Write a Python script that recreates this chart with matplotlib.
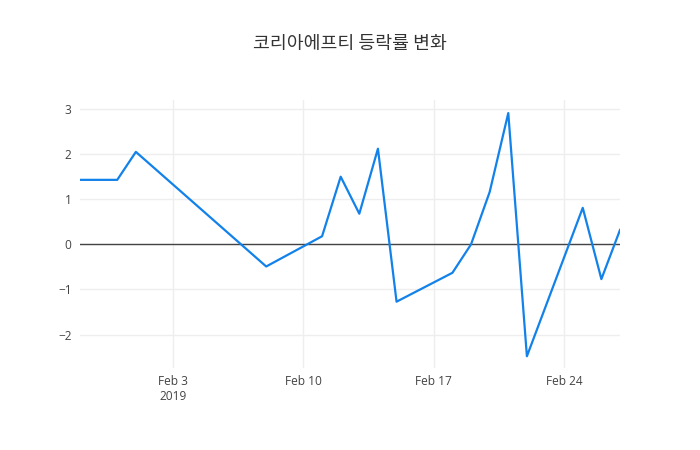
import numpy as np
import pandas as pd
import matplotlib.pyplot as plt
import matplotlib.dates as mdates

plt.rcParams['font.family'] = ['Open Sans', 'Noto Sans CJK KR', 'DejaVu Sans']

# data (daily change %)
dates = ['2019-01-29', '2019-01-31', '2019-02-01', '2019-02-08', '2019-02-11',
         '2019-02-12', '2019-02-13', '2019-02-14', '2019-02-15', '2019-02-18',
         '2019-02-19', '2019-02-20', '2019-02-21', '2019-02-22', '2019-02-25',
         '2019-02-26', '2019-02-27']
rates = [1.43, 1.43, 2.05, -0.49, 0.18,
         1.50, 0.68, 2.12, -1.27, -0.63,
         0.0, 1.16, 2.91, -2.48, 0.81,
         -0.77, 0.32]
title = '코리아에프티 등락률 변화'
yticks = [-2, -1, 0, 1, 2, 3]
xticks = ['2019-02-03', '2019-02-10', '2019-02-17', '2019-02-24']
xticklabels = ['Feb 3\n2019', 'Feb 10', 'Feb 17', 'Feb 24']

x = pd.to_datetime(dates)

fig = plt.figure(figsize=(7, 4.5), dpi=100)
ax = fig.add_axes([80/700, 1-368/450, 540/700, 268/450])

ax.axhline(0, color='#444444', lw=1.0, zorder=2)
ax.plot(x, rates, color='#1282ea', lw=1.6, zorder=3)

ax.set_xlim(x[0], x[-1])
ax.set_ylim(-2.74, 3.2)
ax.set_yticks(yticks)
ax.set_yticklabels(['\u22122', '\u22121', '0', '1', '2', '3'])
ax.set_xticks(pd.to_datetime(xticks))
ax.set_xticklabels(xticklabels)

ax.grid(True, color='#eeeeee', lw=1.0, zorder=0)
ax.set_axisbelow(True)
for s in ax.spines.values():
    s.set_visible(False)
ax.tick_params(length=0, labelsize=8.6, colors='#444444')
ax.tick_params(axis='x', pad=5)
ax.tick_params(axis='y', pad=6)

fig.text(0.5, 1-44/450, title, ha='center', va='center', fontsize=13.2,
         color='#333333', family=['Noto Sans CJK KR', 'DejaVu Sans'])

fig.savefig('out.png', dpi=100)
